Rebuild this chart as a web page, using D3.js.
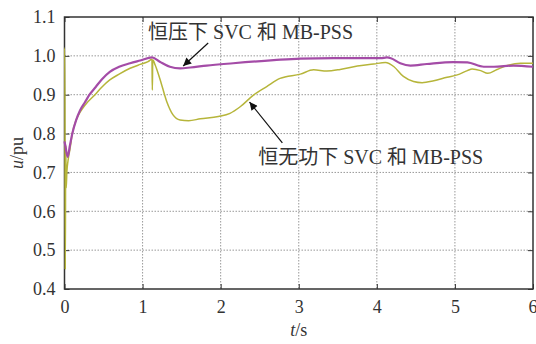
<!DOCTYPE html>
<html>
<head>
<meta charset="utf-8">
<script src="https://cdn.jsdelivr.net/npm/d3@7"></script>
<style>
    body { margin: 0; background: #fff; }
    svg { display: block; }
    text { font-family: "Liberation Serif", "Times New Roman", serif; }
    .tick text { font-family: "Liberation Serif", "Times New Roman", serif; font-size: 18px; fill: #333; }
    .grid line { stroke: #999; stroke-width: 1; stroke-dasharray: 1.5,1.5; }
</style>
</head>
<body>
<svg id="chart" width="536" height="344"></svg>
<script>
// time axis (s) and bus voltage (pu)
var tConstU = [0, 0.01, 0.04, 0.07, 0.10, 0.15, 0.20, 0.26, 0.32, 0.40, 0.48, 0.58, 0.70, 0.84, 0.97, 1.12,
    1.22, 1.35, 1.48, 1.61, 1.82, 2.16, 2.68, 3.02, 3.45, 4.05, 4.13, 4.18, 4.30, 4.43, 4.64, 4.98,
    5.16, 5.37, 5.50, 5.75, 6.0];
var uConstU = [0.78, 0.77, 0.74, 0.77, 0.80, 0.835, 0.86, 0.88, 0.90, 0.92, 0.94, 0.959, 0.972, 0.981, 0.988, 0.996,
    0.985, 0.972, 0.968, 0.970, 0.975, 0.981, 0.989, 0.993, 0.994, 0.994, 0.996, 0.994, 0.981, 0.975, 0.979, 0.984,
    0.983, 0.972, 0.972, 0.975, 0.972];

var tConstQ = [0, 0.004, 0.01, 0.016, 0.022, 0.03, 0.045, 0.07, 0.10, 0.15, 0.20, 0.27, 0.39, 0.48, 0.58, 0.70,
    0.84, 0.97, 1.07, 1.12, 1.125, 1.13, 1.16, 1.22, 1.31, 1.39, 1.48, 1.59, 1.74, 1.97, 2.12, 2.25,
    2.42, 2.59, 2.76, 3.02, 3.19, 3.36, 3.53, 3.75, 3.96, 4.11, 4.22, 4.34, 4.47, 4.58, 4.73, 4.90,
    5.03, 5.16, 5.22, 5.33, 5.42, 5.54, 5.67, 5.84, 6.0];
var uConstQ = [1.02, 1.02, 0.45, 0.77, 0.66, 0.70, 0.73, 0.76, 0.80, 0.835, 0.855, 0.875, 0.90, 0.92, 0.938, 0.953,
    0.968, 0.978, 0.985, 0.991, 0.912, 0.99, 0.977, 0.942, 0.882, 0.848, 0.835, 0.833, 0.838, 0.844, 0.852, 0.869,
    0.899, 0.921, 0.942, 0.953, 0.964, 0.961, 0.965, 0.974, 0.979, 0.983, 0.972, 0.947, 0.934, 0.931, 0.936, 0.945,
    0.951, 0.962, 0.966, 0.962, 0.955, 0.965, 0.975, 0.981, 0.981];

var xTicks = [0, 1, 2, 3, 4, 5, 6];
var yTicks = [0.4, 0.5, 0.6, 0.7, 0.8, 0.9, 1.0, 1.1];

var labelConstU = "恒压下 SVC 和 MB-PSS";
var labelConstQ = "恒无功下 SVC 和 MB-PSS";

var serif = "'Liberation Serif', 'Times New Roman', serif";

var svg = d3.select("#chart");
var margin = {top: 17, right: 3, bottom: 55, left: 64.5};
var width = +svg.attr("width") - margin.left - margin.right,
    height = +svg.attr("height") - margin.top - margin.bottom;

var g = svg.append("g").attr("transform", "translate(" + margin.left + "," + margin.top + ")");

var x = d3.scaleLinear().domain([0, 6]).range([0, width]);
var y = d3.scaleLinear().domain([0.4, 1.1]).range([height, 0]);

/* grid */
g.append("g").attr("class", "grid")
    .selectAll("line.v").data(xTicks.slice(1, -1)).enter().append("line")
    .attr("x1", function (d) { return x(d); }).attr("x2", function (d) { return x(d); })
    .attr("y1", 0).attr("y2", height);
g.append("g").attr("class", "grid")
    .selectAll("line.h").data(yTicks.slice(1, -1)).enter().append("line")
    .attr("x1", 0).attr("x2", width)
    .attr("y1", function (d) { return y(d); }).attr("y2", function (d) { return y(d); });

/* axes, ticks inward */
var fmtY = d3.format(".1f");
var xAxis = g.append("g").attr("transform", "translate(0," + height + ")")
    .call(d3.axisBottom(x).tickValues(xTicks).tickSizeInner(-5).tickSizeOuter(0).tickPadding(11).tickFormat(d3.format("d")))
    .call(function (a) { a.select(".domain").remove(); });
xAxis.selectAll(".tick text").filter(function (d) { return d === 6; })
    .attr("text-anchor", "end").attr("dx", 4);
g.append("g")
    .call(d3.axisLeft(y).tickValues(yTicks).tickSizeInner(-5).tickSizeOuter(0).tickPadding(9).tickFormat(fmtY))
    .call(function (a) { a.select(".domain").remove(); });
g.append("g").attr("transform", "translate(" + width + ",0)")
    .call(d3.axisRight(y).tickValues(yTicks).tickSizeInner(-5).tickSizeOuter(0).tickFormat(""))
    .call(function (a) { a.select(".domain").remove(); });
g.append("g")
    .call(d3.axisTop(x).tickValues(xTicks).tickSizeInner(-5).tickSizeOuter(0).tickFormat(""))
    .call(function (a) { a.select(".domain").remove(); });
g.selectAll(".tick line").attr("stroke", "#333");
g.selectAll(".tick text").style("font-family", serif);

g.append("rect")
    .attr("width", width).attr("height", height)
    .attr("fill", "none").attr("stroke", "#333").attr("stroke-width", 1.5);

/* lines, drawn over the frame */
function makeLine(ts, us) {
    return d3.line()
        .x(function (d, i) { return x(ts[i]); })
        .y(function (d, i) { return y(us[i]); })
        .curve(d3.curveMonotoneX)(us);
}

g.append("path")
    .attr("d", makeLine(tConstQ, uConstQ))
    .attr("fill", "none")
    .attr("stroke", "#b6b53a")
    .attr("stroke-width", 1.5);

g.append("path")
    .attr("d", makeLine(tConstU, uConstU))
    .attr("fill", "none")
    .attr("stroke", "#a44ca7")
    .attr("stroke-width", 2.2);

/* axis titles */
var xt = svg.append("text")
    .attr("x", margin.left + width / 2).attr("y", 336)
    .attr("text-anchor", "middle")
    .style("font-family", serif).style("font-size", "18px").style("fill", "#333");
xt.append("tspan").style("font-style", "italic").text("t");
xt.append("tspan").text("/s");

var yt = svg.append("text")
    .attr("transform", "translate(23," + (margin.top + height / 2) + ") rotate(-90)")
    .attr("text-anchor", "middle")
    .style("font-family", serif).style("font-size", "18px").style("fill", "#333");
yt.append("tspan").style("font-style", "italic").text("u");
yt.append("tspan").text("/pu");

/* annotations */
svg.append("defs").append("marker")
    .attr("id", "arrow")
    .attr("viewBox", "0 -5 10 10")
    .attr("refX", 10).attr("refY", 0)
    .attr("markerWidth", 12).attr("markerHeight", 8)
    .attr("markerUnits", "userSpaceOnUse")
    .attr("orient", "auto")
    .append("path")
    .attr("d", "M0,-5L10,0L0,5Z")
    .attr("fill", "#111");

function annotate(label, tx, ty, ax0, ay0, ax1, ay1) {
    g.append("text")
        .attr("x", x(tx)).attr("y", y(ty))
        .style("font-family", "'Liberation Serif', 'Noto Sans CJK SC', serif")
        .style("font-size", "20px").style("fill", "#333")
        .text(label);
    g.append("line")
        .attr("x1", x(ax0)).attr("y1", y(ay0))
        .attr("x2", x(ax1)).attr("y2", y(ay1))
        .attr("stroke", "#111").attr("stroke-width", 1.2)
        .attr("marker-end", "url(#arrow)");
}

annotate(labelConstU, 1.07, 1.044, 1.84, 1.033, 1.52, 0.974);
annotate(labelConstQ, 2.48, 0.722, 2.79, 0.776, 2.37, 0.881);
</script>
</body>
</html>
